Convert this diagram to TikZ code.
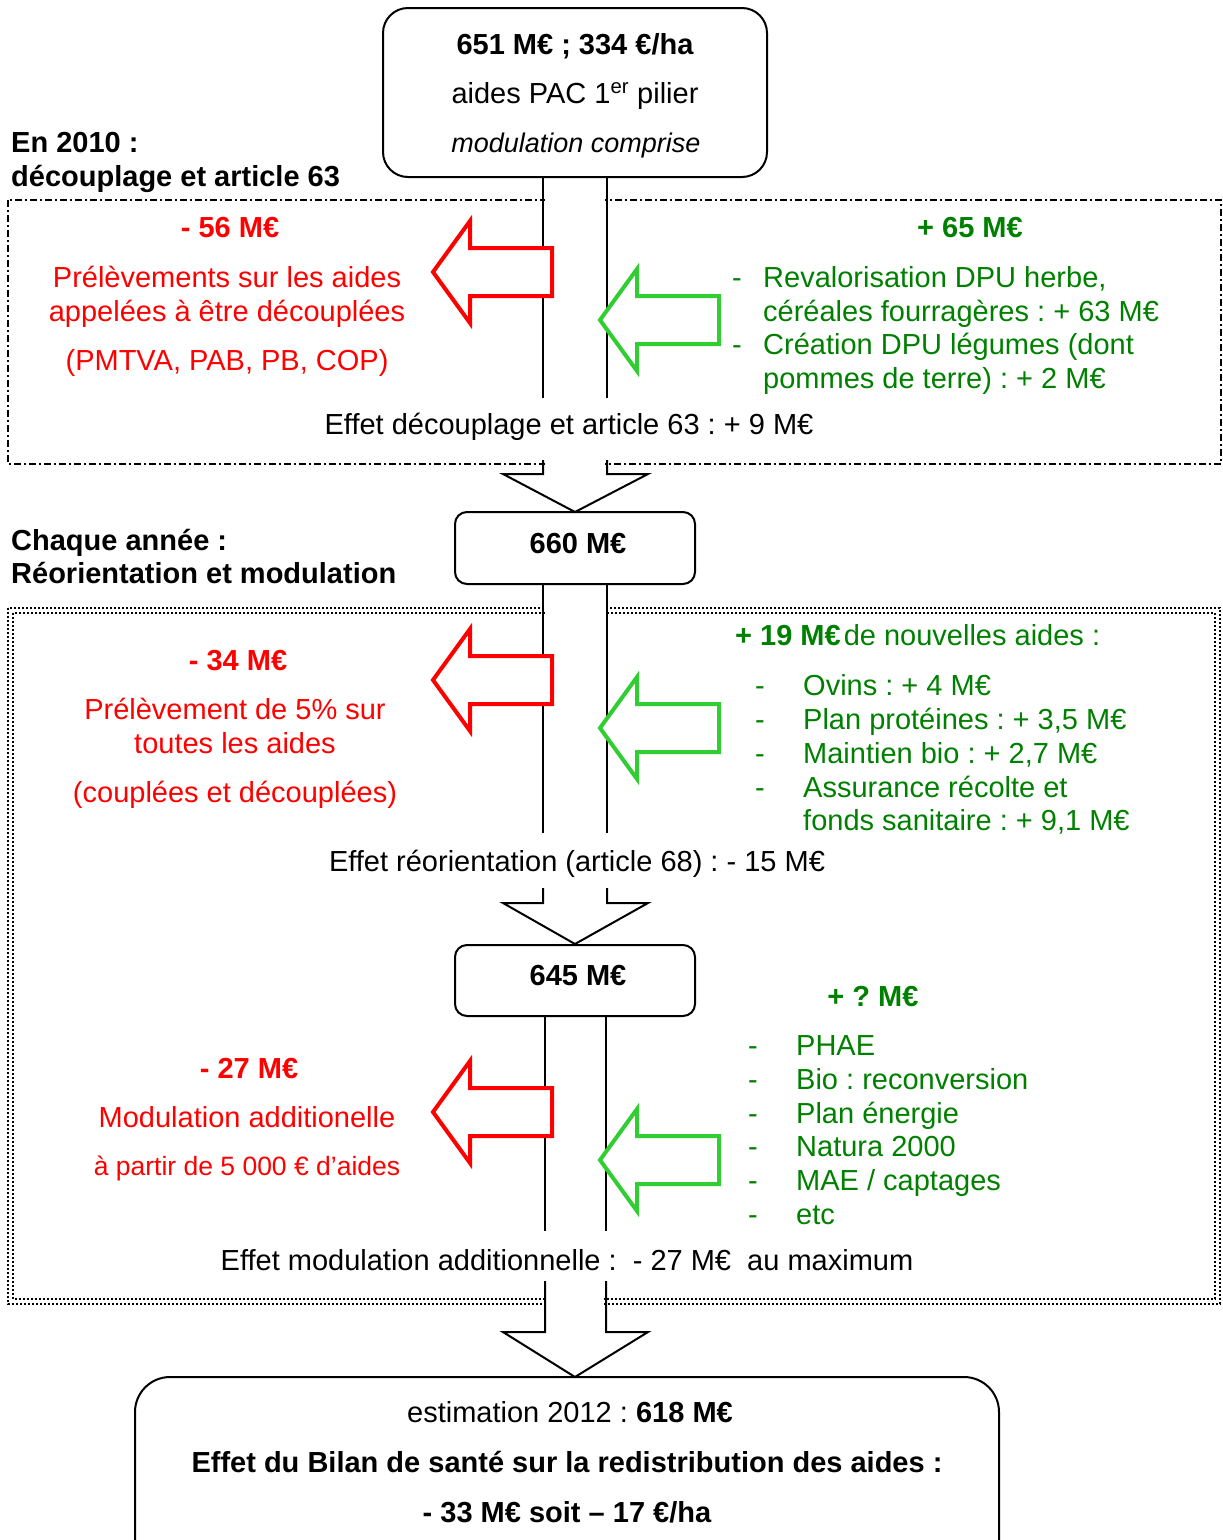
\documentclass[tikz,border=0pt]{standalone}
\usepackage{fontspec}
\setmainfont{Liberation Sans}
\frenchspacing
\definecolor{rd}{RGB}{255,0,0}
\definecolor{gtxt}{RGB}{0,128,0}
\definecolor{garr}{RGB}{50,205,50}
\begin{document}
\frenchspacing
\begin{tikzpicture}[x=1pt,y=-1pt,
  txt/.style={font=\fontsize{29}{34}\selectfont, inner sep=0pt, anchor=base},
  txtl/.style={txt, anchor=base west},
  boxn/.style={draw, line width=2pt, rounded corners=#1, inner sep=0pt},
  boxn/.default=25pt,
  shaft/.style={line width=2pt, line join=miter},
  frameA/.style={line width=1.4pt, dash pattern=on 7pt off 3pt on 2pt off 3pt},
  frameB/.style={line width=2pt, dash pattern=on 2pt off 2pt},
  redtxt/.style={txt, text=rd},
  grntxt/.style={txtl, text=gtxt},
  blockarrow/.pic={\draw[pic actions, line width=4pt, fill=white, line join=miter, miter limit=10]
     (0,0) -- (37,-51) -- (37,-24) -- (119,-24) -- (119,24) -- (37,24) -- (37,51) -- cycle;}
]
\useasboundingbox (0,0) rectangle (1223,1540);

% ---------- frames ----------
\draw[frameA] (8,200) rectangle (1221,464);
\draw[frameB] (8,608) rectangle (1220,1304);
\draw[frameB] (13,613) rectangle (1215,1299);
% blank the frames inside the shafts
\fill[white] (545,190) rectangle (605,472);
\fill[white] (545,598) rectangle (605,624);
\fill[white] (547,1290) rectangle (604,1330);

% ---------- boxes ----------
\node[boxn, minimum width=384pt, minimum height=169pt] (top) at (575,92.5) {};
\node[boxn=12pt, minimum width=240pt, minimum height=72pt] (b660) at (575,548) {};
\node[boxn=12pt, minimum width=240pt, minimum height=71pt] (b645) at (575,980.5) {};
\node[boxn=35pt, minimum width=864pt, minimum height=210pt] (bot) at (567,1482) {};

% ---------- shafts ----------
\draw[shaft] (543,177) -- (543,398) (607,177) -- (607,398);
\draw[shaft] (543,460) -- (543,474) -- (503,474) -- (575,512) -- (648,474) -- (607,474) -- (607,460);
\draw[shaft] (543,584) -- (543,833) (607,584) -- (607,833);
\draw[shaft] (543,888) -- (543,903) -- (503,903) -- (575,944) -- (648,903) -- (607,903) -- (607,888);
\draw[shaft] (545,1016) -- (545,1231) (606,1016) -- (606,1231);
\draw[shaft] (545,1281) -- (545,1332) -- (503,1332) -- (575,1377) -- (648,1332) -- (606,1332) -- (606,1281);

% ---------- block arrows ----------
\pic[draw=rd] at (433,272) {blockarrow};
\pic[draw=garr] at (600,320) {blockarrow};
\pic[draw=rd] at (433,680) {blockarrow};
\pic[draw=garr] at (600,728) {blockarrow};
\pic[draw=rd] at (433,1112) {blockarrow};
\pic[draw=garr] at (600,1160) {blockarrow};

% ---------- top box text ----------
\node[txt, font=\fontsize{29}{34}\selectfont\bfseries] (t1) at (575,54) {651 M€ ; 334 €/ha};
\node[txt] (t2) at (575,103) {aides PAC 1\textsuperscript{er} pilier};
\node[txt, font=\fontsize{27}{34}\selectfont\itshape] (t3) at (576,152) {modulation comprise};

% ---------- headings ----------
\node[txtl, font=\fontsize{29}{34}\selectfont\bfseries] (h1a) at (11,152) {En 2010 :};
\node[txtl, font=\fontsize{29}{34}\selectfont\bfseries] (h1b) at (11,186) {découplage et article 63};
\node[txtl, font=\fontsize{29}{34}\selectfont\bfseries] (h2a) at (11,550) {Chaque année :};
\node[txtl, font=\fontsize{29}{34}\selectfont\bfseries] (h2b) at (11,583) {Réorientation et modulation};

% ---------- section 1 ----------
\node[redtxt, font=\fontsize{29}{34}\selectfont\bfseries] (r1a) at (230,237) {- 56 M€};
\node[redtxt] (r1b) at (227,287) {Prélèvements sur les aides};
\node[redtxt] (r1c) at (227,321) {appelées à être découplées};
\node[redtxt] (r1d) at (227,370) {(PMTVA, PAB, PB, COP)};

\node[txt, text=gtxt, font=\fontsize{29}{34}\selectfont\bfseries] (g1a) at (970,237) {+ 65 M€};
\node[grntxt] (g1d1) at (732,287) {-};
\node[grntxt] (g1b) at (763,287) {Revalorisation DPU herbe,};
\node[grntxt] (g1c) at (763,321) {céréales fourragères : + 63 M€};
\node[grntxt] (g1d2) at (732,354) {-};
\node[grntxt] (g1d) at (763,354) {Création DPU légumes (dont};
\node[grntxt] (g1e) at (763,388) {pommes de terre) : + 2 M€};

\node[txt] (e1) at (569,434) {Effet découplage et article 63 : + 9 M€};

\node[txt, font=\fontsize{29}{34}\selectfont\bfseries] (n660) at (578,553) {660 M€};

% ---------- section 2 ----------
\node[redtxt, font=\fontsize{29}{34}\selectfont\bfseries] (r2a) at (238,670) {- 34 M€};
\node[redtxt] (r2b) at (235,719) {Prélèvement de 5\% sur};
\node[redtxt] (r2c) at (235,753) {toutes les aides};
\node[redtxt] (r2d) at (235,802) {(couplées et découplées)};

\node[grntxt] (g2a) at (735,645) {\textbf{+ 19 M€}\hspace{3pt}de nouvelles aides :};
\foreach \yy/\nm in {695/a,729/b,763/c,797/d}
  \node[grntxt] (g2dash\nm) at (755,\yy) {-};
\node[grntxt] (g2b) at (803,695) {Ovins : + 4 M€};
\node[grntxt] (g2c) at (803,729) {Plan protéines : + 3,5 M€};
\node[grntxt] (g2d) at (803,763) {Maintien bio : + 2,7 M€};
\node[grntxt] (g2e) at (803,797) {Assurance récolte et};
\node[grntxt] (g2f) at (803,830) {fonds sanitaire : + 9,1 M€};

\node[txt] (e2) at (577,871) {Effet réorientation (article 68) : - 15 M€};

\node[txt, font=\fontsize{29}{34}\selectfont\bfseries] (n645) at (578,985) {645 M€};

% ---------- section 3 ----------
\node[redtxt, font=\fontsize{29}{34}\selectfont\bfseries] (r3a) at (249,1078) {- 27 M€};
\node[redtxt] (r3b) at (247,1127) {Modulation additionelle};
\node[redtxt, font=\fontsize{26.5}{31}\selectfont] (r3c) at (247,1175) {à partir de 5 000 € d’aides};

\node[txt, text=gtxt, font=\fontsize{29}{34}\selectfont\bfseries] (g3a) at (873,1006) {+ ? M€};
\foreach \yy/\nm in {1055/a,1089/b,1123/c,1156/d,1190/e,1224/f}
  \node[grntxt] (g3dash\nm) at (748,\yy) {-};
\node[grntxt] (g3b) at (796,1055) {PHAE};
\node[grntxt] (g3c) at (796,1089) {Bio : reconversion};
\node[grntxt] (g3d) at (796,1123) {Plan énergie};
\node[grntxt] (g3e) at (796,1156) {Natura 2000};
\node[grntxt] (g3f) at (796,1190) {MAE / captages};
\node[grntxt] (g3g) at (796,1224) {etc};

\node[txt] (e3) at (567,1270) {Effet modulation additionnelle :\ \ - 27 M€\ \ au maximum};

% ---------- bottom box text ----------
\node[txt] (f1) at (570,1422) {estimation 2012 : \textbf{618 M€}};
\node[txt, font=\fontsize{29}{34}\selectfont\bfseries] (f2) at (567,1472) {Effet du Bilan de santé sur la redistribution des aides :};
\node[txt, font=\fontsize{29}{34}\selectfont\bfseries] (f3) at (567,1522) {- 33 M€ soit – 17 €/ha};
\end{tikzpicture}
\end{document}
